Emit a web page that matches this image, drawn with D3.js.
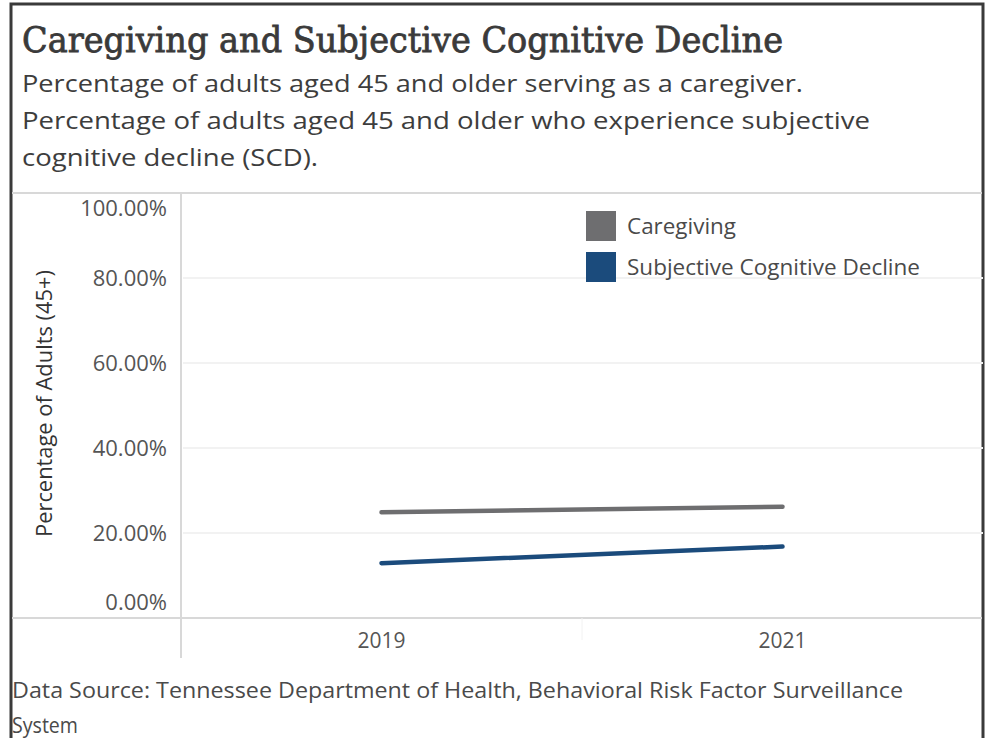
<!DOCTYPE html>
<html>
<head>
<meta charset="utf-8">
<script src="https://cdn.jsdelivr.net/npm/d3@7"></script>
<style>
  html, body { margin: 0; padding: 0; background: #fff; }
  svg { display: block; }
  text { font-family: "Open Sans", sans-serif; }
</style>
</head>
<body>
<svg id="chart" width="986" height="738"></svg>
<script>
const years = ["2019", "2021"];
const caregiving = [24.9, 26.2];
const scd = [12.9, 16.8];
const seriesNames = ["Caregiving", "Subjective Cognitive Decline"];
const seriesColors = ["#6e6e70", "#1b4b7c"];
const yTicks = [0, 20, 40, 60, 80, 100];
const titleText = "Caregiving and Subjective Cognitive Decline";
const subtitleLines = [
  "Percentage of adults aged 45 and older serving as a caregiver.",
  "Percentage of adults aged 45 and older who experience subjective",
  "cognitive decline (SCD)."
];
const footerLines = [
  "Data Source: Tennessee Department of Health, Behavioral Risk Factor Surveillance",
  "System"
];
const yAxisTitle = "Percentage of Adults (45+)";

const svg = d3.select("#chart");

// frame
svg.append("path")
  .attr("d", "M11,738 V4 H983 V738")
  .attr("fill", "none").attr("stroke", "#3a3a3a").attr("stroke-width", 3);

// title
svg.append("text")
  .attr("x", 22).attr("y", 52)
  .style("font-family", "'DejaVu Serif', serif")
  .attr("font-size", 36)
  .attr("fill", "#3a3a3a")
  .attr("stroke", "#3a3a3a").attr("stroke-width", 0.8)
  .attr("textLength", 761).attr("lengthAdjust", "spacingAndGlyphs")
  .text(titleText);

const subLens = [781, 848, 296];
svg.selectAll("text.sub").data(subtitleLines).join("text")
  .attr("class", "sub")
  .attr("x", 22).attr("y", (d, i) => 92 + i * 37)
  .attr("font-size", 24.5).attr("fill", "#3d3d3d")
  .attr("textLength", (d, i) => subLens[i]).attr("lengthAdjust", "spacingAndGlyphs")
  .text(d => d);

// scales
const x = d3.scaleBand().domain(years).range([181, 983]);
const y = d3.scaleLinear().domain([0, 100]).range([618, 193]);

// grid lines
svg.append("g").selectAll("line").data(yTicks.filter(t => t > 0 && t < 100)).join("line")
  .attr("x1", 183).attr("x2", 983)
  .attr("y1", d => y(d)).attr("y2", d => y(d))
  .attr("stroke", "#f2f2f2").attr("stroke-width", 2);

// separators
svg.append("line").attr("x1", 12).attr("x2", 982).attr("y1", y(100)).attr("y2", y(100))
  .attr("stroke", "#d8d8d8").attr("stroke-width", 2);
svg.append("line").attr("x1", 12).attr("x2", 982).attr("y1", y(0)).attr("y2", y(0))
  .attr("stroke", "#d8d8d8").attr("stroke-width", 2);
svg.append("line").attr("x1", 181).attr("x2", 181).attr("y1", y(100)).attr("y2", 658)
  .attr("stroke", "#d8d8d8").attr("stroke-width", 2);
svg.append("line").attr("x1", x("2021")).attr("x2", x("2021")).attr("y1", y(0)).attr("y2", 640)
  .attr("stroke", "#f2f2f2").attr("stroke-width", 1);

// y axis
const yAxis = d3.axisLeft(y).tickValues(yTicks).tickSize(0).tickPadding(0)
  .tickFormat(d => d.toFixed(2) + "%");
const gy = svg.append("g").attr("transform", "translate(167,0)").call(yAxis);
gy.select(".domain").remove();
gy.selectAll("text")
  .attr("font-size", 22).attr("fill", "#555")
  .style("font-family", "'Open Sans', sans-serif")
  .attr("dy", d => d === 100 ? "1.0em" : d === 0 ? "-0.4em" : "0.35em");

// y axis title
svg.append("text")
  .attr("transform", `translate(52,${(y(100) + y(0)) / 2 - 2}) rotate(-90)`)
  .attr("text-anchor", "middle")
  .attr("font-size", 21).attr("fill", "#333")
  .attr("textLength", 267).attr("lengthAdjust", "spacingAndGlyphs")
  .text(yAxisTitle);

// x axis
const xAxis = d3.axisBottom(x).tickSize(0).tickPadding(0);
const gx = svg.append("g").attr("transform", `translate(0,${y(0)})`).call(xAxis);
gx.select(".domain").remove();
gx.selectAll("text")
  .attr("font-size", 21).attr("fill", "#555")
  .style("font-family", "'Open Sans', sans-serif")
  .attr("dy", "1.45em");

// lines
const seriesData = [caregiving, scd];
const line = d3.line()
  .x((d, i) => x(years[i]) + x.bandwidth() / 2)
  .y(d => y(d));
svg.append("g").selectAll("path").data(seriesData).join("path")
  .attr("d", d => line(d))
  .attr("fill", "none")
  .attr("stroke", (d, i) => seriesColors[i])
  .attr("stroke-width", 4.5)
  .attr("stroke-linecap", "round");

// legend
const legendLens = [109, 293];
const lg = svg.append("g").attr("transform", "translate(586,211)");
const items = lg.selectAll("g").data(seriesNames).join("g")
  .attr("transform", (d, i) => `translate(0,${i * 41})`);
items.append("rect").attr("width", 30).attr("height", 30)
  .attr("fill", (d, i) => seriesColors[i]);
items.append("text").attr("x", 41).attr("y", 15).attr("dy", "0.35em")
  .attr("font-size", 21.5).attr("fill", "#4a4a4a")
  .attr("textLength", (d, i) => legendLens[i]).attr("lengthAdjust", "spacingAndGlyphs")
  .text(d => d);

// footer
const footLens = [891, 66];
svg.selectAll("text.foot").data(footerLines).join("text")
  .attr("class", "foot")
  .attr("x", 12).attr("y", (d, i) => 698 + i * 35)
  .attr("font-size", 21.5).attr("fill", "#4a4a4a")
  .attr("textLength", (d, i) => footLens[i]).attr("lengthAdjust", "spacingAndGlyphs")
  .text(d => d);
</script>
</body>
</html>
